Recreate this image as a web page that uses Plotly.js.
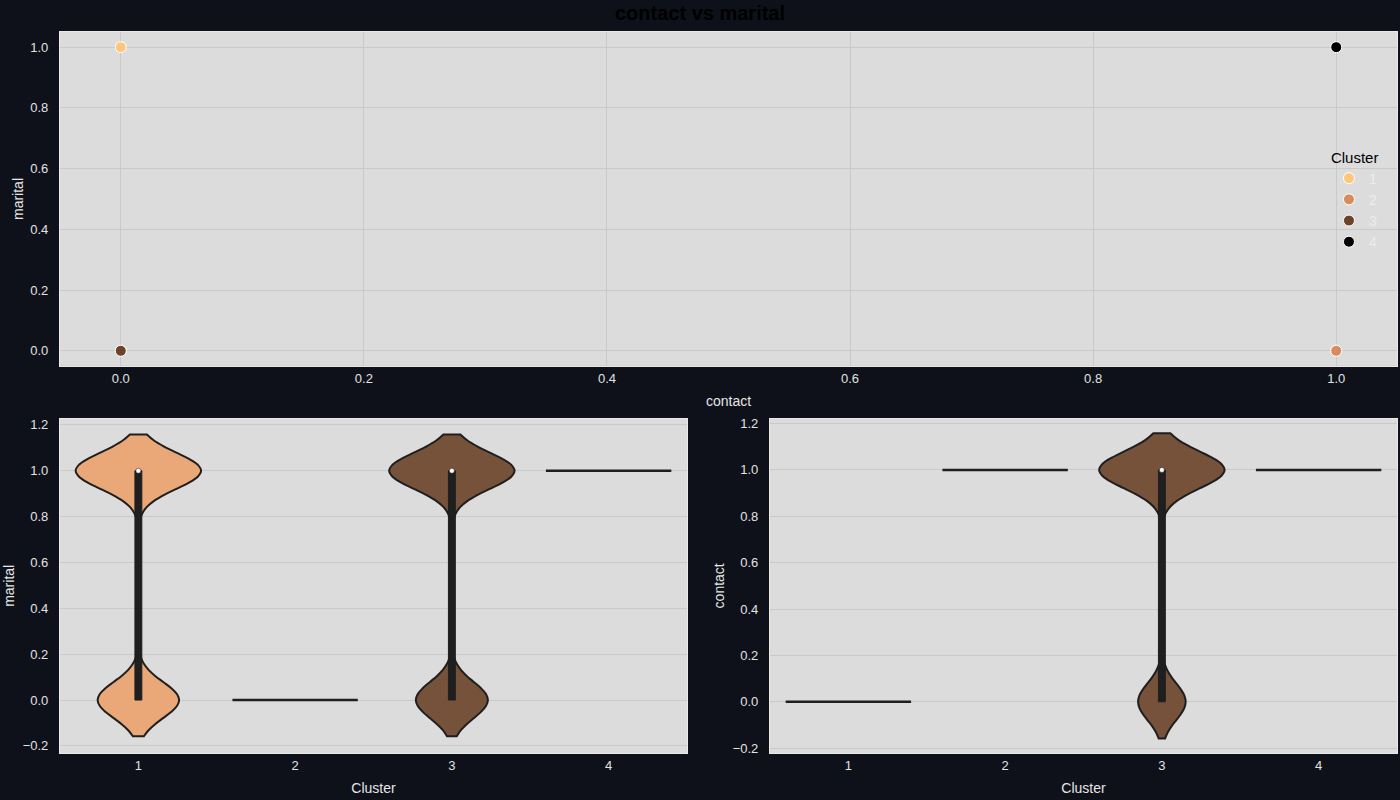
<!DOCTYPE html>
<html>
<head>
<meta charset="utf-8">
<script src="https://cdn.plot.ly/plotly-3.0.1.min.js"></script>
<style>
  html, body { margin: 0; padding: 0; background: #0e1119; }
  #chart { width: 1400px; height: 800px; }
</style>
</head>
<body>
<div id="chart"></div>
<script>
// ---- data ----
const clusters = [1, 2, 3, 4];
const clusterColors = ['#fec67a', '#d68c5c', '#6b4328', '#000000'];
const violinFills = ['#eaa778', '#cf8f66', '#76523a', '#222222'];

// (contact, marital) combinations
const comboContact = [0, 0, 1, 1];
const comboMarital = [0, 1, 0, 1];
// estimated counts of each combination per cluster
const countsC1 = [65, 100, 0, 0];
const countsC2 = [0, 0, 100, 0];
const countsC3 = [55, 0, 18, 127];
const countsC4 = [0, 0, 0, 100];
const clusterCounts = [countsC1, countsC2, countsC3, countsC4];

// drawing order of the scatter (later = on top)
const scatterOrder = [1, 3, 2, 4];

// ---- helpers ----
function samples(counts, values) {
  const out = [];
  counts.forEach((n, i) => { for (let k = 0; k < n; k++) out.push(values[i]); });
  return out;
}
function median(arr) {
  const s = arr.slice().sort((a, b) => a - b);
  const m = Math.floor(s.length / 2);
  return s.length % 2 ? s[m] : (s[m - 1] + s[m]) / 2;
}

const traces = [];

// top scatter
scatterOrder.forEach(c => {
  const i = clusters.indexOf(c);
  const xs = [], ys = [];
  clusterCounts[i].forEach((n, j) => {
    if (n > 0) { xs.push(comboContact[j]); ys.push(comboMarital[j]); }
  });
  traces.push({
    type: 'scatter', mode: 'markers', x: xs, y: ys,
    name: String(c), legendrank: c,
    marker: { color: clusterColors[i], size: 11, line: { color: '#ffffff', width: 1 } },
    xaxis: 'x', yaxis: 'y', hoverinfo: 'x+y+name'
  });
});

// bottom violins
const VW = 0.8;
function addViolins(values, xa, ya) {
  clusters.forEach((c, i) => {
    const ys = samples(clusterCounts[i], values);
    const uniq = Array.from(new Set(ys));
    if (uniq.length === 1) {
      traces.push({
        type: 'scatter', mode: 'lines',
        x: [c - VW / 2, c + VW / 2], y: [uniq[0], uniq[0]],
        line: { color: '#1f1f1f', width: 2.5 },
        showlegend: false, xaxis: xa, yaxis: ya, hoverinfo: 'y'
      });
    } else {
      traces.push({
        type: 'violin', x0: c, y: ys, width: VW, scalemode: 'width',
        bandwidth: 0.079, spanmode: 'soft', points: false,
        fillcolor: violinFills[i], opacity: 1,
        line: { color: '#1f1f1f', width: 2 },
        box: { visible: true, width: 0.055, fillcolor: '#1f1f1f', line: { color: '#1f1f1f', width: 1 } },
        meanline: { visible: false },
        showlegend: false, xaxis: xa, yaxis: ya, hoverinfo: 'y'
      });
      traces.push({
        type: 'scatter', mode: 'markers', x: [c], y: [median(ys)],
        marker: { color: '#ffffff', size: 5, line: { color: '#1f1f1f', width: 0.5 } },
        showlegend: false, xaxis: xa, yaxis: ya, hoverinfo: 'y'
      });
    }
  });
}
addViolins(comboMarital, 'x2', 'y2');
addViolins(comboContact, 'x3', 'y3');

// ---- layout ----
const tickFont = { family: 'Arial, Liberation Sans, sans-serif', size: 13, color: '#e2e2e2' };
const titleFont = { family: 'Arial, Liberation Sans, sans-serif', size: 14, color: '#e6e6e6' };
const base = {
  showgrid: true, gridcolor: '#c9c9c9', gridwidth: 1, zeroline: false,
  showline: true, linecolor: '#e9e9e9', linewidth: 1.2, mirror: true,
  tickfont: tickFont, ticks: '', automargin: false
};

const layout = {
  width: 1400, height: 800,
  paper_bgcolor: '#0e1119', plot_bgcolor: '#dcdcdc',
  margin: { l: 60, r: 3, t: 32, b: 47 },
  title: { text: '<b>contact vs marital</b>', x: 0.5, xanchor: 'center', y: 0.984, yanchor: 'middle', yref: 'container',
           font: { family: 'Arial, Liberation Sans, sans-serif', size: 20, color: '#000000' } },
  showlegend: true,
  legend: {
    x: 0.9491, xanchor: 'left', y: 0.846, yanchor: 'top', bgcolor: 'rgba(0,0,0,0)',
    traceorder: 'normal',
    font: { family: 'Arial, Liberation Sans, sans-serif', size: 14, color: '#ececec' },
    title: { text: 'Cluster', font: { family: 'Arial, Liberation Sans, sans-serif', size: 15, color: '#000000' } }
  },
  xaxis: Object.assign({}, base, { domain: [0, 1], anchor: 'y', range: [-0.05, 1.05], dtick: 0.2, tick0: 0, tickformat: '.1f',
    title: { text: 'contact', font: titleFont, standoff: 11 } }),
  yaxis: Object.assign({}, base, { domain: [0.5368, 1], anchor: 'x', range: [-0.05, 1.05], dtick: 0.2, tick0: 0, tickformat: '.1f',
    ticklabelstandoff: 8, title: { text: 'marital', font: titleFont, standoff: 3 } }),
  xaxis2: Object.assign({}, base, { domain: [0, 0.46896], anchor: 'y2', range: [0.5, 4.5], tickvals: clusters, ticktext: clusters.map(String), showgrid: false,
    title: { text: 'Cluster', font: titleFont, standoff: 11 } }),
  yaxis2: Object.assign({}, base, { domain: [0, 0.4637], anchor: 'x2', range: [-0.231, 1.227], dtick: 0.2, tick0: 0, tickformat: '.1f',
    ticklabelstandoff: 8, title: { text: 'marital', font: titleFont, standoff: 4 } }),
  xaxis3: Object.assign({}, base, { domain: [0.53104, 1], anchor: 'y3', range: [0.5, 4.5], tickvals: clusters, ticktext: clusters.map(String), showgrid: false,
    title: { text: 'Cluster', font: titleFont, standoff: 11 } }),
  yaxis3: Object.assign({}, base, { domain: [0, 0.4637], anchor: 'x3', range: [-0.221, 1.221], dtick: 0.2, tick0: 0, tickformat: '.1f',
    ticklabelstandoff: 8, title: { text: 'contact', font: titleFont, standoff: 4 } })
};

Plotly.newPlot('chart', traces, layout, { displayModeBar: false, responsive: false });
</script>
</body>
</html>
